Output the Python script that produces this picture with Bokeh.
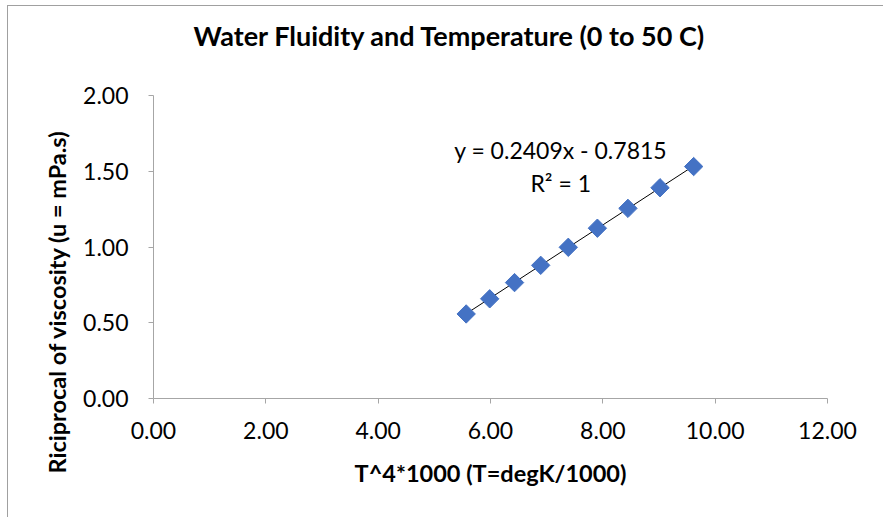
import numpy as np
from bokeh.plotting import figure
from bokeh.models import FixedTicker, NumeralTickFormatter, Label, Range1d, Title
from bokeh.embed import file_html
from bokeh.resources import INLINE

# data
x_vals = [5.567, 5.986, 6.428, 6.894, 7.385, 7.903, 8.447, 9.018, 9.617]
y_vals = [0.558, 0.658, 0.765, 0.879, 0.998, 1.124, 1.255, 1.391, 1.531]
slope = 0.2409
intercept = -0.7815
x_ticks = [0, 2, 4, 6, 8, 10, 12]
y_ticks = [0, 0.5, 1.0, 1.5, 2.0]
title_text = "Water Fluidity and Temperature (0 to 50 C)"
x_title = "T^4*1000 (T=degK/1000)"
y_title = "Riciprocal of viscosity (u = mPa.s)"
eq_text = "y = 0.2409x - 0.7815"
r2_text = "R\u00b2 = 1"

FONT = "Lato"
AXIS_GRAY = "#a6a6a6"

p = figure(width=876, height=512, output_backend="svg", toolbar_location=None,
           x_range=Range1d(0, 12), y_range=Range1d(0, 2),
           min_border_left=145, min_border_right=57, min_border_top=89, min_border_bottom=120)
p.margin = (5, 0, 0, 7)
p.styles = {"border-top": "1px solid #a0a0a0", "border-left": "1px solid #a0a0a0"}
p.outline_line_color = None
p.xgrid.visible = False
p.ygrid.visible = False

# small spacer between frame and title so the title sits higher
p.add_layout(Title(text=" ", text_font_size="1px", standoff=40), "above")

p.title.text = title_text
p.title.align = "left"
p.title.offset = 40
p.title.vertical_align = "middle"
p.title.text_font = FONT
p.title.text_font_size = "27px"
p.title.text_font_style = "bold"
p.title.text_color = "#000000"
p.title.standoff = 0

for ax in (p.xaxis[0], p.yaxis[0]):
    ax.axis_line_color = AXIS_GRAY
    ax.major_tick_line_color = AXIS_GRAY
    ax.minor_tick_line_color = None
    ax.major_tick_in = 0
    ax.major_tick_out = 5
    ax.major_label_text_font = FONT
    ax.major_label_text_font_size = "23px"
    ax.major_label_text_color = "#000000"
    ax.formatter = NumeralTickFormatter(format="0.00")

p.xaxis[0].ticker = FixedTicker(ticks=x_ticks)
p.yaxis[0].ticker = FixedTicker(ticks=y_ticks)
p.xaxis[0].major_label_standoff = 18
p.yaxis[0].major_label_standoff = 20

p.xaxis[0].axis_label = x_title
p.xaxis[0].axis_label_text_font = FONT
p.xaxis[0].axis_label_text_font_size = "23.5px"
p.xaxis[0].axis_label_text_font_style = "bold"
p.xaxis[0].axis_label_text_color = "#000000"
p.xaxis[0].axis_label_standoff = 17

# y axis title (Excel centres it lower than the plot frame)
p.add_layout(Title(text=y_title, align="left", offset=-75, standoff=20,
                   text_font=FONT, text_font_size="23.5px", text_font_style="bold",
                   text_color="#000000"), "left")

# trendline
xs = np.array([min(x_vals), max(x_vals)])
p.line(xs, slope * xs + intercept, line_color="#000000", line_width=1)

p.scatter(x_vals, y_vals, marker="square", angle=np.pi / 4, size=13,
          fill_color="#4472c4", line_color="#4472c4")

p.add_layout(Label(x=7.25, y=1.64, text=eq_text, text_font=FONT, text_font_size="23px",
                   text_align="center", text_baseline="middle", text_color="#000000"))
p.add_layout(Label(x=7.25, y=1.42, text=r2_text, text_font=FONT, text_font_size="23px",
                   text_align="center", text_baseline="middle", text_color="#000000"))

open("out.html", "w").write(file_html(p, INLINE))
